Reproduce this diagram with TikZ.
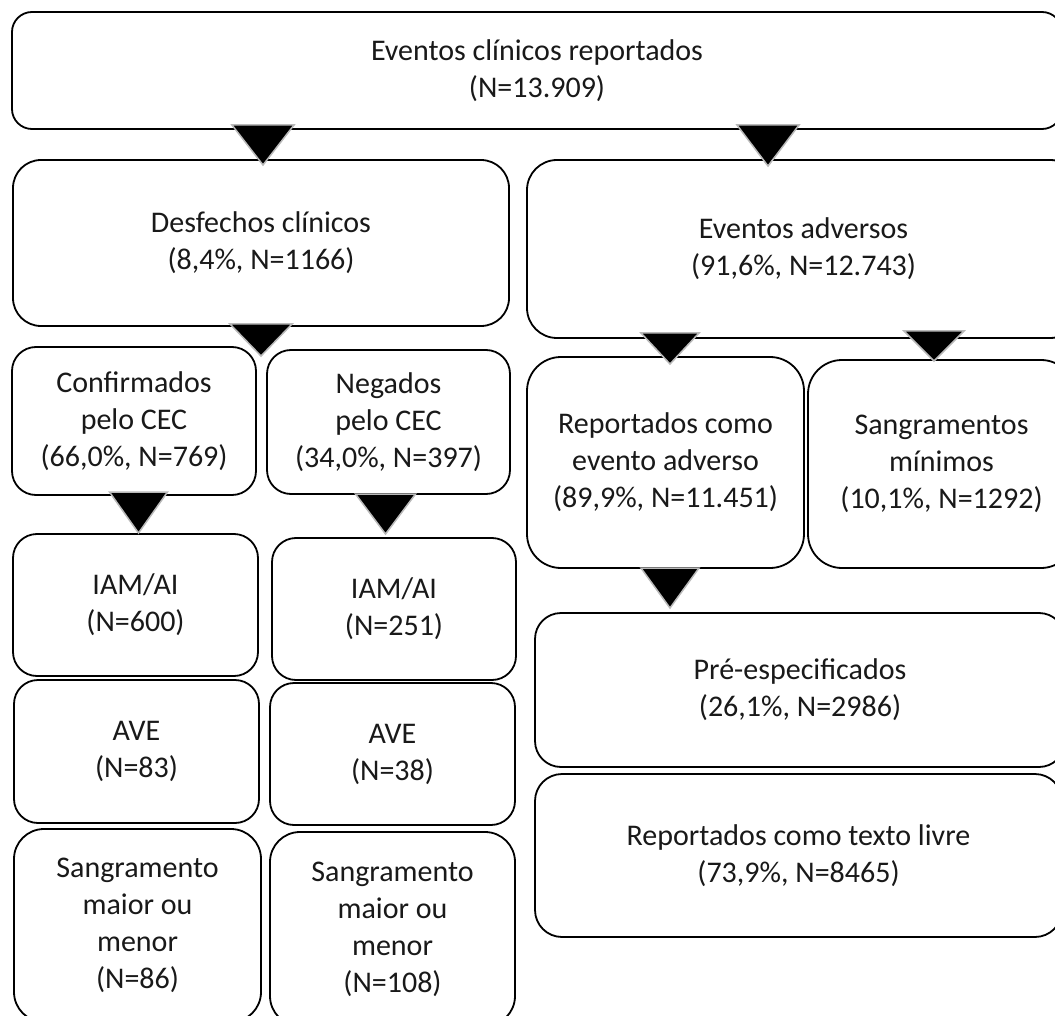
\documentclass[tikz,border=0pt]{standalone}
\usepackage{fontspec}
\setmainfont{Carlito}
\usepackage{tikz}

\tikzset{
  caixa/.style={draw=black, line width=1.8pt, rounded corners=24pt, fill=white,
    align=center, inner sep=0pt, text=black!90},
  seta/.style={fill=black, draw=gray!55, line width=1.5pt, line join=miter}
}

\begin{document}
\begin{tikzpicture}[x=1pt, y=-1pt, font=\fontsize{30}{37}\selectfont]
	\fill[white] (0,0) rectangle (1055,1016);
	\useasboundingbox (0,0) rectangle (1055,1016);
	%\draw[help lines] (0,0) grid[step=100] (1055,1016);
	\node[caixa, rounded corners=20pt, minimum width=1050pt, minimum height=117pt] (ecr) at (537,70.5) {Eventos clínicos reportados\\(N=13.909)};
	\node[caixa, rounded corners=28pt, minimum width=496pt, minimum height=166pt] (dc) at (261,243) {Desfechos clínicos\\(8,4\%, N=1166)};
	\node[caixa, rounded corners=30pt, minimum width=553pt, minimum height=178pt] (ea) at (803.5,249) {Eventos adversos\\(91,6\%, N=12.743)};
	\node[caixa, minimum width=244pt, minimum height=148pt] (conf) at (134,421) {Confirmados\\pelo CEC\\(66,0\%, N=769)};
	\node[caixa, minimum width=243pt, minimum height=144pt] (neg) at (388.5,422) {Negados\\pelo CEC\\(34,0\%, N=397)};
	\node[caixa, minimum width=245pt, minimum height=142pt] (iam1) at (135.5,605) {IAM/AI\\(N=600)};
	\node[caixa, minimum width=244pt, minimum height=142pt] (iam2) at (394,609) {IAM/AI\\(N=251)};
	\node[caixa, minimum width=245pt, minimum height=143pt] (ave1) at (136.5,751.5) {AVE\\(N=83)};
	\node[caixa, minimum width=245pt, minimum height=142pt] (ave2) at (392.5,754) {AVE\\(N=38)};
	\node[caixa, rounded corners=30pt, minimum width=247pt, minimum height=193pt] (sang1) at (137.5,925.5) {Sangramento\\maior ou\\menor\\(N=86)};
	\node[caixa, rounded corners=30pt, minimum width=245pt, minimum height=194pt] (sang2) at (392.5,929) {Sangramento\\maior ou\\menor\\(N=108)};
	\node[caixa, rounded corners=34pt, minimum width=277pt, minimum height=211pt] (rea) at (665.5,462.5) {Reportados como\\evento adverso\\(89,9\%, N=11.451)};
	\node[caixa, rounded corners=34pt, minimum width=267pt, minimum height=208pt] (smin) at (941.5,464) {Sangramentos\\mínimos\\(10,1\%, N=1292)};
	\node[caixa, rounded corners=26pt, minimum width=530pt, minimum height=154pt] (pre) at (800,690) {Pré-especificados\\(26,1\%, N=2986)};
	\node[caixa, rounded corners=27pt, minimum width=527pt, minimum height=163pt] (livre) at (798.5,855.5) {Reportados como texto livre\\(73,9\%, N=8465)};
	\coordinate (s1) at (263,125);
	\coordinate (s2) at (768,125);
	\coordinate (s3) at (261,324);
	\coordinate (s4) at (138.5,492);
	\coordinate (s5) at (385.5,494);
	\coordinate (s6) at (670,333);
	\coordinate (s7) at (934,331);
	\coordinate (s8) at (670,568);
	\filldraw[seta] (s1) ++(-31,0) -- ++(62,0) -- ++(-31,40) -- cycle;
	\filldraw[seta] (s2) ++(-31,0) -- ++(62,0) -- ++(-31,41) -- cycle;
	\filldraw[seta] (s3) ++(-31,0) -- ++(62,0) -- ++(-31,32) -- cycle;
	\filldraw[seta] (s4) ++(-29,0) -- ++(58,0) -- ++(-29,41) -- cycle;
	\filldraw[seta] (s5) ++(-30,0) -- ++(60,0) -- ++(-30,40) -- cycle;
	\filldraw[seta] (s6) ++(-29,0) -- ++(58,0) -- ++(-29,31) -- cycle;
	\filldraw[seta] (s7) ++(-30,0) -- ++(60,0) -- ++(-30,30) -- cycle;
	\filldraw[seta] (s8) ++(-29,0) -- ++(58,0) -- ++(-29,40) -- cycle;
\end{tikzpicture}
\end{document}
